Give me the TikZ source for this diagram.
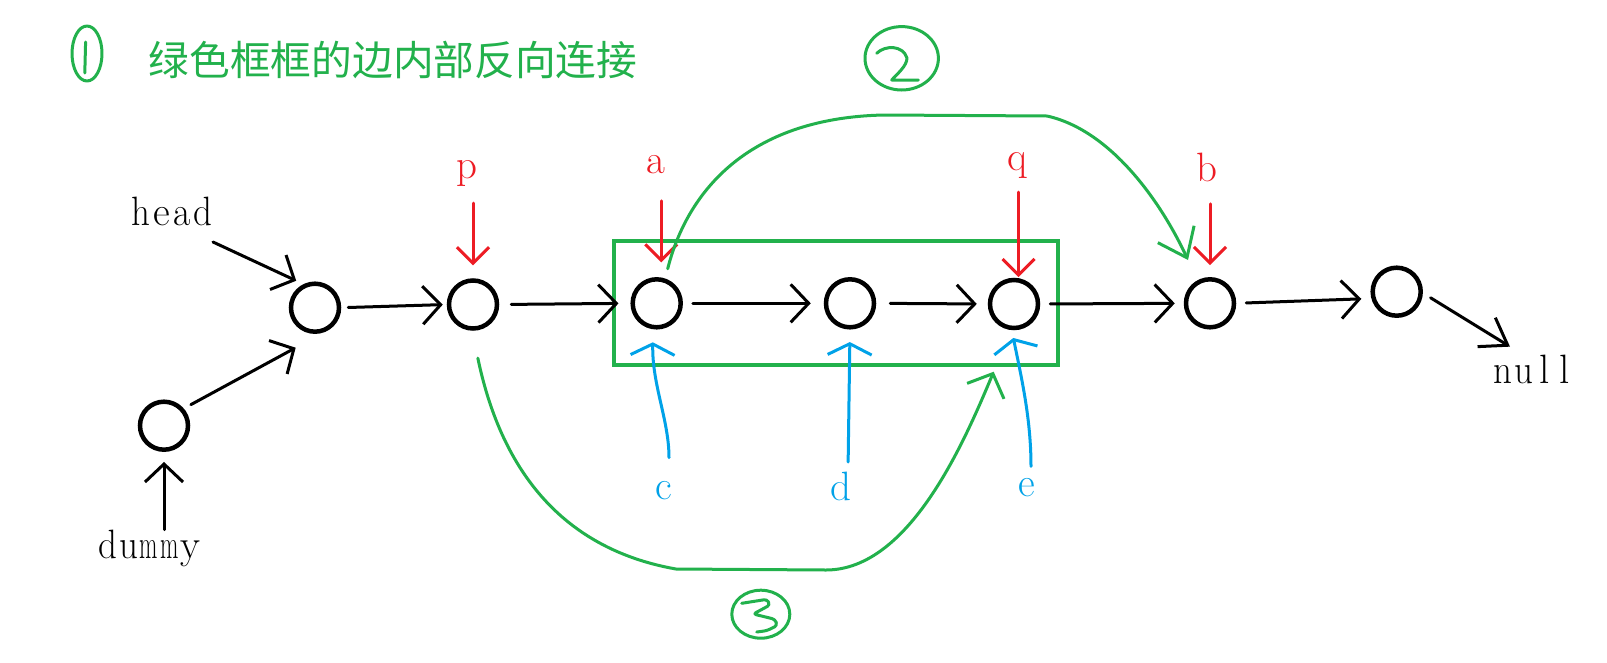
\documentclass[tikz,border=0pt]{standalone}
\usepackage{fontspec}
\usepackage{graphicx}
\newfontfamily\cjk{Noto Sans CJK SC}
\usetikzlibrary{arrows.meta}
\definecolor{pgreen}{RGB}{34,177,76}
\definecolor{pred}{RGB}{237,28,36}
\definecolor{pblue}{RGB}{0,162,232}
\newcommand\mch[2][1]{\makebox[0.5em]{\scalebox{#1}[1]{#2}}}
\begin{document}
\begin{tikzpicture}[x=1pt,y=-1pt,
  nd/.style={circle,draw=black,line width=4.5pt,minimum size=48pt,inner sep=0pt},
  lbl/.style={font=\fontsize{41}{49}\selectfont,inner sep=0pt,anchor=base},
  blk/.style={line width=3pt,draw=black,line cap=round,-{Straight Barb[length=18pt,width=38pt]}},
  rd/.style={line width=3pt,draw=pred,line cap=round,-{Straight Barb[length=16pt,width=32pt]}},
  bl/.style={line width=3pt,draw=pblue,line cap=round,-{Straight Barb[length=11pt,width=44pt]}},
  gr/.style={line width=3pt,draw=pgreen,line cap=round,line join=round}]
\useasboundingbox[fill=white] (0,0) rectangle (1607,662);

% title
\draw[gr] (87,53.5) ellipse [x radius=15pt, y radius=27.5pt];
\draw[gr] (85.6,42) -- (84.8,73);
\node[text=pgreen,font=\cjk\fontsize{40.7}{48}\selectfont,inner sep=0pt] (title) at (393,60) {绿色框框的边内部反向连接};

% circled 2 and 3
\draw[gr] (901.7,58.3) ellipse [x radius=36.7pt, y radius=31.7pt];
\draw[gr] (876.7,53.3) .. controls (885,45) and (903,45) .. (907,58) .. controls (907,66) and (897,74) .. (891.7,80) -- (918.3,80);
\draw[gr] (760.8,614.2) ellipse [x radius=29pt, y radius=24pt];
\draw[gr,rounded corners=3pt] (741.7,603.3) -- (767,599.3) -- (770,605) -- (753.3,614) -- (775,619.3) -- (777.3,625.5) -- (766.7,630.7) -- (756.7,632);

% green box
\node[draw=pgreen,line width=4.5pt,minimum width=443.8pt,minimum height=124.2pt,inner sep=0pt] (box) at (836.1,302.9) {};

% list nodes
\node[nd] (dummy) at (164,425.7) {};
\node[nd] (head) at (315,307.7) {};
\node[nd] (p) at (473,304.5) {};
\node[nd] (a) at (656.7,303.3) {};
\node[nd] (d) at (850,303.3) {};
\node[nd] (q) at (1014,304) {};
\node[nd] (b) at (1210,303.3) {};
\node[nd] (last) at (1396.7,291.7) {};

% labels
\node[lbl] (headlbl) at (171.7,225) {\mch[.9]{h}\mch{e}\mch[.92]{a}\mch[.9]{d}};
\node[lbl] (dummylbl) at (149,558.3) {\mch[.9]{d}\mch[.9]{u}\mch[.58]{m}\mch[.58]{m}\mch{y}};
\node[lbl] (nulllbl) at (1534,383.3) {\mch[.9]{n}\mch[.9]{u}\mch{l}\mch{l}};
\node[lbl,text=pred] (plbl) at (466.7,178) {p};
\node[lbl,text=pred] (albl) at (656,173.3) {a};
\node[lbl,text=pred] (qlbl) at (1017,170) {q};
\node[lbl,text=pred] (blbl) at (1207.3,181.7) {b};
\node[lbl,text=pblue] (clbl) at (664,499) {c};
\node[lbl,text=pblue] (dlbl) at (841,500.7) {d};
\node[lbl,text=pblue] (elbl) at (1027,496.7) {e};

% black links
\coordinate (hs) at (213,242);
\coordinate (t1) at (295.7,347.7);
\draw[blk,shorten >=8pt] (hs) -- (head.116);
\draw[blk,shorten <=8pt] (dummy.41) -- (t1);
\draw[blk,shorten >=10pt] (dummylbl.north -| dummy.south) -- (dummy.south);
\draw[blk,shorten <=7pt,shorten >=4pt] (head.east) -- (p.west);
\draw[blk,shorten <=12pt,shorten >=12pt] (p.east) -- (a.west);
\draw[blk,shorten <=10pt,shorten >=13pt] (a.east) -- (d.west);
\draw[blk,shorten <=14pt,shorten >=11pt] (d.east) -- (q.west);
\draw[blk,shorten <=10pt,shorten >=9pt] (q.east) -- (b.west);
\draw[blk,shorten <=10pt,shorten >=10pt] (b.east) -- (last.195);
\draw[line width=3pt,line cap=round,-{Straight Barb[length=25pt,width=34pt]},shorten <=9pt] (last.-3) -- ([xshift=-24pt,yshift=8pt]nulllbl.north);

% red pointers
\draw[rd,shorten <=17pt,shorten >=13pt] (plbl.south -| p.north) -- (p.north);
\draw[rd,shorten <=27pt,shorten >=15pt] (albl.south -| a.80) -- (a.80);
\draw[rd,shorten <=14pt,shorten >=1pt] (qlbl.south -| q.80) -- (q.80);
\draw[rd,shorten <=21.6pt,shorten >=12pt] (blbl.south -| b.north) -- (b.north);

% blue pointers
\draw[bl,shorten <=23pt,shorten >=13pt] ([xshift=5pt]clbl.north) .. controls (669,420) and (652,385) .. (a.-98);
\draw[bl,shorten <=10pt,shorten >=12.5pt] ([xshift=7pt]dlbl.north) -- (d.south);
\draw[bl,shorten <=12pt,shorten >=8pt] ([xshift=4pt]elbl.north) .. controls (1031,420) and (1022,380) .. (q.-95);

% green re-links
\coordinate (t2) at (1188,260);
\coordinate (t3) at (993.7,371.7);
\draw[gr,-{Straight Barb[length=26pt,width=40pt]},shorten <=10pt] (a.71) .. controls (685,200) and (740,118) .. (884,115) -- (1047,116) .. controls (1110,130) and (1160,200) .. (t2);
\draw[gr,-{Straight Barb[length=19pt,width=40pt]},shorten <=28pt] (p.-92) .. controls (495,440) and (540,545) .. (676,569) -- (826,570) .. controls (910,570) and (965,440) .. (t3);
\end{tikzpicture}
\end{document}
